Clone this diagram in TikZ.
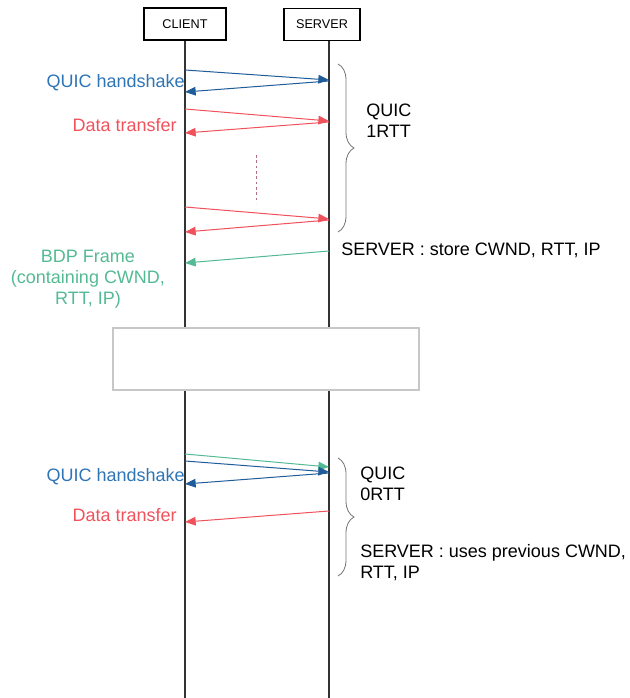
\documentclass[tikz,border=0pt]{standalone}
\usepackage{fontspec}
\setmainfont{Liberation Sans}
\usetikzlibrary{arrows.meta,decorations.pathreplacing}
\definecolor{hsblue}{RGB}{31,92,153}
\definecolor{hstext}{RGB}{46,117,182}
\definecolor{dtred}{RGB}{240,82,92}
\definecolor{bdpgreen}{RGB}{84,186,148}
\definecolor{dotpink}{RGB}{176,112,128}

\begin{document}
\begin{tikzpicture}[x=0.75pt, y=-0.75pt, font=\fontsize{13.5}{15.75}\selectfont,
    actor/.style={draw, line width=1pt, inner sep=0pt, minimum height=24pt, font=\fontsize{9.5}{11}\selectfont},
    lifeline/.style={line width=0.8pt, black!80},
    msg/.style={line width=0.75pt, -{Triangle[length=8pt, width=6.5pt]}},
    lbl/.style={inner sep=0pt},
    curly/.style={decorate, decoration={brace, amplitude=12pt}, line width=0.6pt, black!55}]
    \useasboundingbox (0,0) rectangle (629,698);
    % client and server
    \node[actor, minimum width=61.5pt] (client) at (185,24) {CLIENT};
    \node[actor, minimum width=57pt] (server) at (322,24.5) {SERVER};
    \coordinate (cl) at (client.south);
    \coordinate (sl) at (329,41);
    \draw[lifeline] (cl) -- (cl |- 0,698);
    \draw[lifeline] (sl) -- (sl |- 0,698);
    % first connection : 1RTT
    \draw[msg, hsblue] (cl |- 0,70) -- (sl |- 0,80);
    \draw[msg, hsblue] (sl |- 0,81) -- (cl |- 0,92);
    \draw[msg, dtred] (cl |- 0,109) -- (sl |- 0,121);
    \draw[msg, dtred] (sl |- 0,122) -- (cl |- 0,133);
    \draw[dotpink, line width=0.75pt, dash pattern=on 2pt off 2pt] (256,155) -- (256,203);
    \draw[msg, dtred] (cl |- 0,207) -- (sl |- 0,219);
    \draw[msg, dtred] (sl |- 0,220) -- (cl |- 0,232);
    \draw[msg, bdpgreen] (sl |- 0,251) -- (cl |- 0,263);
    \node[lbl, anchor=base east, text=hstext] (hs1) at (185,88) {QUIC handshake};
    \node[lbl, anchor=base east, text=dtred] (dt1) at (177,132) {Data transfer};
    \node[lbl, anchor=base, align=center, text=bdpgreen] (bdp) at (88,304) {BDP Frame\\(containing CWND,\\RTT, IP)};
    \draw[curly] (338,64) -- (338,232);
    \node[lbl, anchor=base west, align=left] (rtt1) at (366,138) {QUIC\\1RTT};
    \node[lbl, anchor=base west] (store) at (341,255) {SERVER : store CWND, RTT, IP};
    % gap between connections
    \node[draw=black!22, fill=white, line width=0.8pt, inner sep=0pt, minimum width=229.5pt, minimum height=46.5pt] (gap) at (266,359) {};
    % second connection : 0RTT
    \draw[msg, bdpgreen] (cl |- 0,454) -- (sl |- 0,467);
    \draw[msg, hsblue] (cl |- 0,461) -- (sl |- 0,472);
    \draw[msg, hsblue] (sl |- 0,473) -- (cl |- 0,484);
    \draw[msg, dtred] (sl |- 0,511) -- (cl |- 0,522);
    \node[lbl, anchor=base east, text=hstext] (hs2) at (185,481) {QUIC handshake};
    \node[lbl, anchor=base east, text=dtred] (dt2) at (177,521) {Data transfer};
    \draw[curly] (338,458) -- (338,576);
    \node[lbl, anchor=base west, align=left] (rtt0) at (360,500) {QUIC\\0RTT};
    \node[lbl, anchor=base west, align=left] (reuse) at (360,578) {SERVER : uses previous CWND,\\RTT, IP};
\end{tikzpicture}
\end{document}
